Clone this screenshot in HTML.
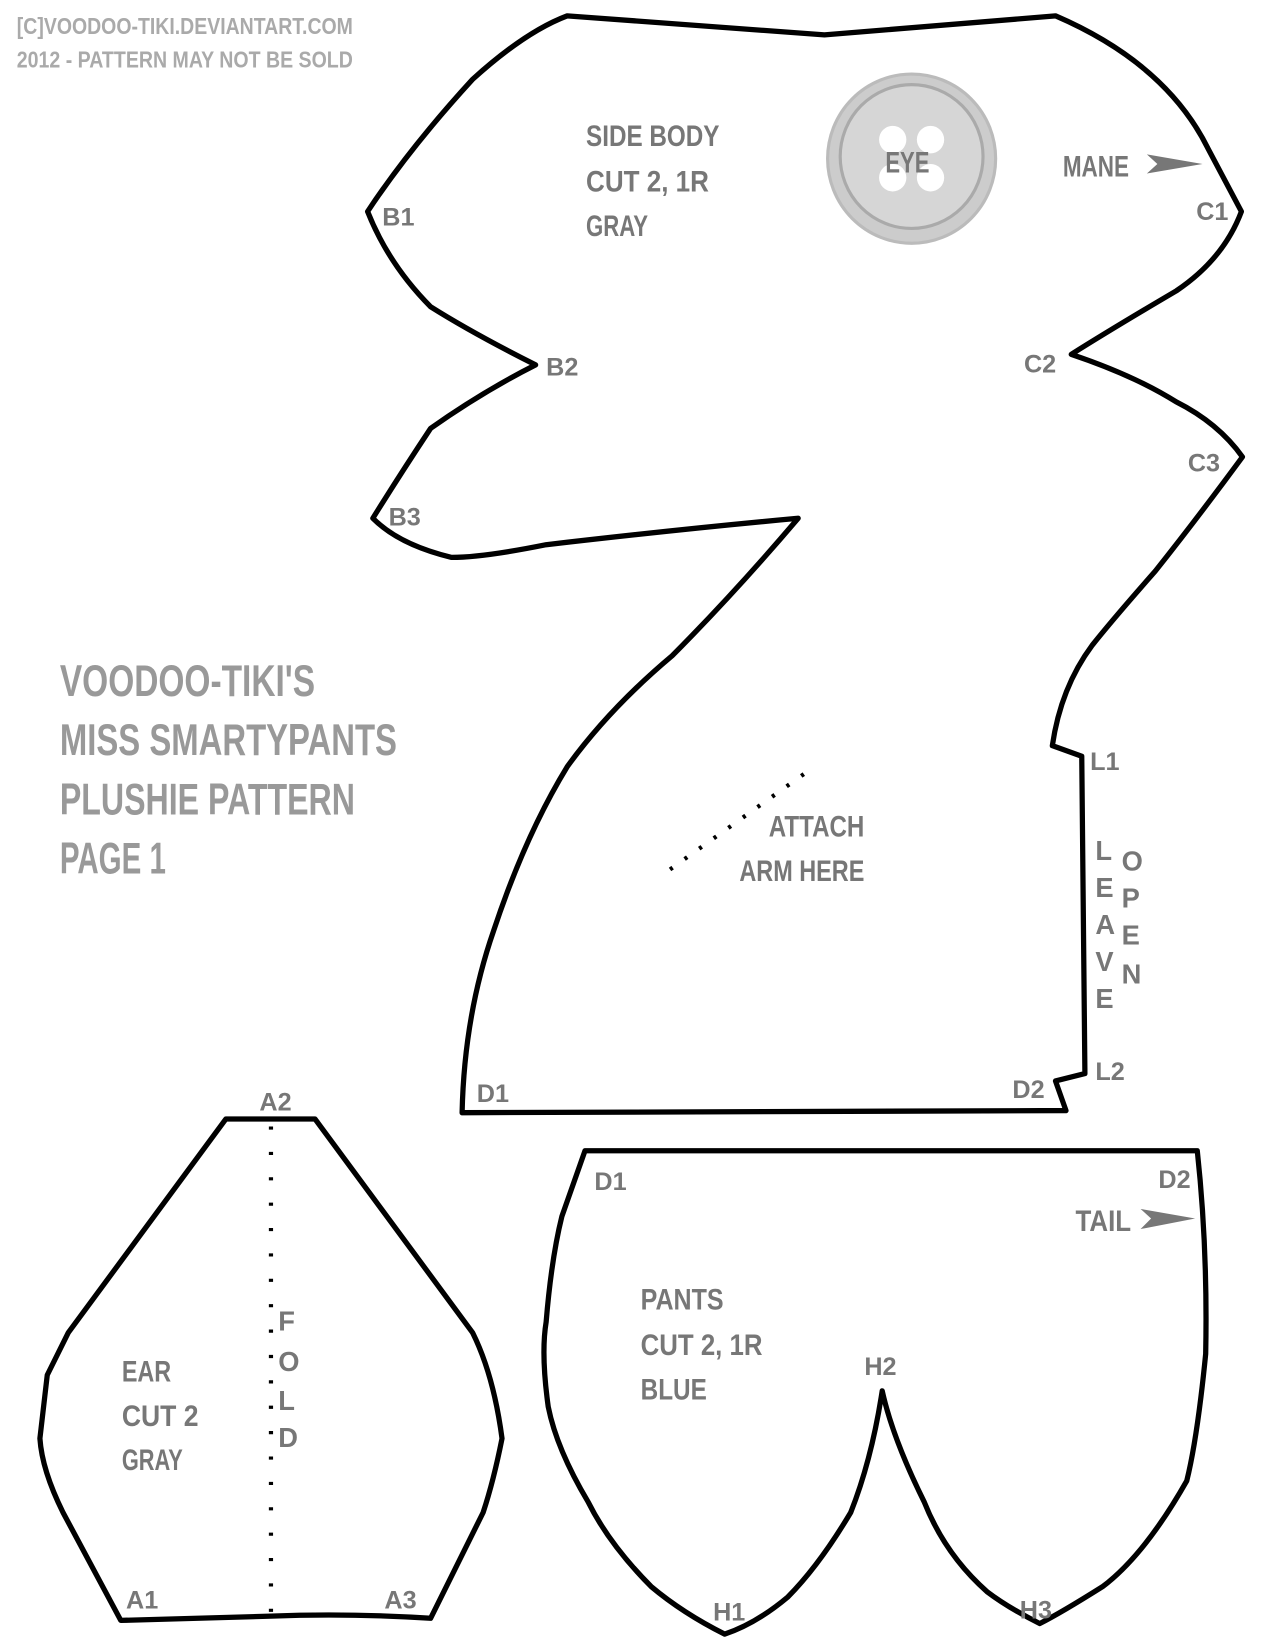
<!DOCTYPE html>
<html><head><meta charset="utf-8"><style>
html,body{margin:0;padding:0;background:#fff;}
svg{display:block}
text{font-family:"Liberation Sans Narrow","Liberation Sans",sans-serif;font-weight:bold;fill:#777;}
</style></head><body>
<svg width="1275" height="1650" viewBox="0 0 1214 1560" preserveAspectRatio="none" xmlns="http://www.w3.org/2000/svg">
<g fill="none" stroke="#000" stroke-width="5" stroke-linejoin="round">
<path d="M540,15 L785,33 L1005,15 Q1110,60 1150,140 L1182,200 Q1165,245 1120,275 Q1060,310 1020,335 Q1080,355 1120,380 Q1160,400 1183,432 Q1140,490 1100,540 Q1060,585 1040,610 Q1010,650 1002,705 L1030,715 L1033,1015 L1005,1022 L1015,1050 L440,1052 Q442,960 470,880 Q500,790 540,725 Q580,670 640,620 Q700,560 760,490 Q650,500 520,515 Q460,527 430,527 Q380,515 355,490 Q380,450 410,405 Q460,370 510,345 Q450,315 410,290 Q370,250 350,200 Q390,140 450,75 Q500,30 540,15 Z"/>
<path d="M215,1058 L300,1058 L450,1260 Q470,1300 478,1360 Q470,1400 460,1430 L410,1530 Q330,1525 258,1528 L115,1532 L60,1430 Q40,1390 38,1360 L45,1300 L65,1260 Z"/>
<path d="M557,1088 L1140,1088 Q1150,1180 1148,1280 Q1140,1360 1130,1400 Q1090,1470 1050,1500 Q1010,1525 990,1535 Q960,1520 940,1505 Q900,1470 880,1420 Q850,1360 840,1315 Q830,1380 810,1430 Q780,1480 750,1510 Q720,1535 690,1545 Q650,1525 620,1500 Q580,1460 560,1420 Q530,1370 522,1330 Q515,1280 520,1250 Q525,1190 535,1150 Z"/>
</g>
<line x1="258" y1="1065" x2="258" y2="1527" stroke="#000" stroke-width="4" stroke-dasharray="3,21"/>
<line x1="638" y1="822" x2="768" y2="730" stroke="#000" stroke-width="4" stroke-dasharray="3,14"/>
<circle cx="868" cy="150" r="80" fill="#ccc" stroke="#bbb" stroke-width="3"/>
<circle cx="868" cy="148" r="68" fill="#d6d6d6" stroke="#aaa" stroke-width="3"/>
<g fill="#fff"><circle cx="850" cy="132" r="13"/><circle cx="886" cy="132" r="13"/><circle cx="850" cy="168" r="13"/><circle cx="886" cy="168" r="13"/></g>
<polygon points="1092,146 1145,155 1092,164 1102,155" fill="#777"/>
<polygon points="1086,1143 1138,1152 1086,1162 1096,1152" fill="#777"/>
<g font-size="22"><text x="16" y="32" style="fill:#aaa" textLength="320" lengthAdjust="spacingAndGlyphs">[C]VOODOO-TIKI.DEVIANTART.COM</text><text x="16" y="64" style="fill:#aaa" textLength="320" lengthAdjust="spacingAndGlyphs">2012 - PATTERN MAY NOT BE SOLD</text></g>
<g font-size="42"><text x="57" y="658" style="fill:#999" textLength="243" lengthAdjust="spacingAndGlyphs">VOODOO-TIKI'S</text><text x="57" y="714" style="fill:#999" textLength="321" lengthAdjust="spacingAndGlyphs">MISS SMARTYPANTS</text><text x="57" y="770" style="fill:#999" textLength="281" lengthAdjust="spacingAndGlyphs">PLUSHIE PATTERN</text><text x="57" y="826" style="fill:#999" textLength="101" lengthAdjust="spacingAndGlyphs">PAGE 1</text></g>
<g font-size="28">
<text x="558" y="138" textLength="127" lengthAdjust="spacingAndGlyphs">SIDE BODY</text><text x="558" y="181" textLength="117" lengthAdjust="spacingAndGlyphs">CUT 2, 1R</text><text x="558" y="223" textLength="59" lengthAdjust="spacingAndGlyphs">GRAY</text>
<text x="843" y="163" textLength="42" lengthAdjust="spacingAndGlyphs">EYE</text><text x="1012" y="167" textLength="63" lengthAdjust="spacingAndGlyphs">MANE</text>
<text x="732" y="791" textLength="91" lengthAdjust="spacingAndGlyphs">ATTACH</text><text x="704" y="833" textLength="119" lengthAdjust="spacingAndGlyphs">ARM HERE</text>
<text x="116" y="1306" textLength="47" lengthAdjust="spacingAndGlyphs">EAR</text><text x="116" y="1348" textLength="73" lengthAdjust="spacingAndGlyphs">CUT 2</text><text x="116" y="1390" textLength="58" lengthAdjust="spacingAndGlyphs">GRAY</text>
<text x="610" y="1238" textLength="79" lengthAdjust="spacingAndGlyphs">PANTS</text><text x="610" y="1281" textLength="116" lengthAdjust="spacingAndGlyphs">CUT 2, 1R</text><text x="610" y="1323" textLength="63" lengthAdjust="spacingAndGlyphs">BLUE</text>
<text x="1024" y="1164" textLength="53" lengthAdjust="spacingAndGlyphs">TAIL</text>
</g>
<g font-size="24">
<text x="364" y="213">B1</text><text x="520" y="355">B2</text><text x="370" y="497">B3</text>
<text x="1139" y="208">C1</text><text x="975" y="352">C2</text><text x="1131" y="446">C3</text>
<text x="1038" y="728">L1</text><text x="1043" y="1021">L2</text>
<text x="454" y="1042">D1</text><text x="964" y="1038">D2</text>
<text x="247" y="1050">A2</text><text x="120" y="1521">A1</text><text x="366" y="1521">A3</text>
<text x="566" y="1125">D1</text><text x="1103" y="1123">D2</text>
<text x="823" y="1300">H2</text><text x="679" y="1532">H1</text><text x="971" y="1530">H3</text>
<g font-size="26"><text x="1043" y="813">L</text><text x="1043" y="848">E</text><text x="1043" y="883">A</text><text x="1043" y="918">V</text><text x="1043" y="953">E</text>
<text x="1068" y="823">O</text><text x="1068" y="858">P</text><text x="1068" y="893">E</text><text x="1068" y="930">N</text>
<text x="265" y="1258">F</text><text x="265" y="1296">O</text><text x="265" y="1333">L</text><text x="265" y="1368">D</text></g>
</g>
</svg>
</body></html>
